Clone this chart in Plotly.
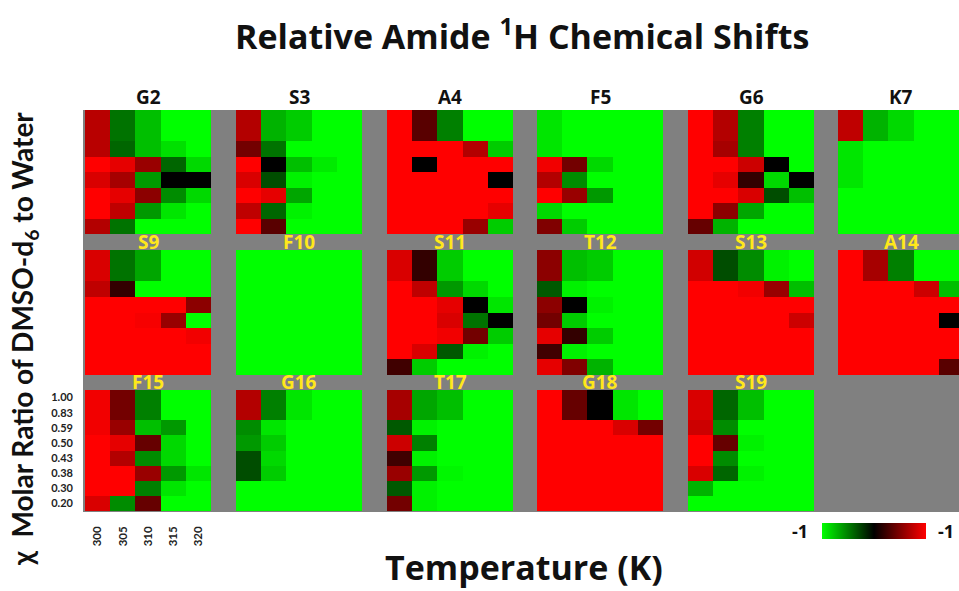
import plotly.graph_objects as go

# ---------------- data ----------------
temps = ["300", "305", "310", "315", "320"]
ratios = ["1.00", "0.83", "0.59", "0.50", "0.43", "0.38", "0.30", "0.20"]
residues = ["G2", "S3", "A4", "F5", "G6", "K7",
            "S9", "F10", "S11", "T12", "S13", "A14",
            "F15", "G16", "T17", "G18", "S19"]

G2 = [[0.72, -0.45, -0.75, -1, -1],
      [0.72, -0.45, -0.75, -1, -1],
      [0.72, -0.4, -0.75, -0.88, -1],
      [1, 0.9, 0.6, -0.4, -0.85],
      [0.85, 0.65, -0.6, 0, 0],
      [1, 0.9, 0.55, -0.55, -0.85],
      [1, 0.75, -0.6, -0.9, -1],
      [0.7, -0.45, -1, -1, -1]]
S3 = [[0.7, -0.7, -0.8, -1, -1],
      [0.7, -0.7, -0.8, -1, -1],
      [0.45, -0.45, -1, -1, -1],
      [1, 0, -0.75, -0.92, -1],
      [0.85, -0.3, -0.95, -1, -1],
      [1, 0.9, -0.65, -1, -1],
      [0.75, -0.4, -0.95, -1, -1],
      [1, 0.35, -1, -1, -1]]
A4 = [[1, 0.35, -0.5, -1, -1],
      [1, 0.35, -0.5, -1, -1],
      [1, 1, 1, 0.7, -0.8],
      [1, 0, 1, 1, 1],
      [1, 1, 1, 1, 0],
      [1, 1, 1, 1, 1],
      [1, 1, 1, 1, 0.9],
      [1, 1, 1, 0.6, -0.8]]
F5 = [[-0.9, -1, -1, -1, -1],
      [-0.9, -1, -1, -1, -1],
      [-0.9, -1, -1, -1, -1],
      [0.95, 0.45, -0.85, -1, -1],
      [0.7, -0.55, -1, -1, -1],
      [1, 0.6, -0.6, -1, -1],
      [-0.85, -1, -1, -1, -1],
      [0.5, -0.8, -1, -1, -1]]
G6 = [[1, 0.7, -0.5, -1, -1],
      [1, 0.7, -0.5, -1, -1],
      [1, 0.65, -0.5, -1, -1],
      [1, 1, 0.8, 0, -1],
      [1, 0.9, 0.2, -0.85, 0],
      [1, 1, 0.85, -0.3, -0.75],
      [1, 0.55, -0.65, -1, -1],
      [0.4, -0.7, -1, -1, -1]]
K7 = [[0.75, -0.7, -0.85, -1, -1],
      [0.75, -0.7, -0.85, -1, -1],
      [-0.9, -1, -1, -1, -1],
      [-0.9, -1, -1, -1, -1],
      [-0.9, -1, -1, -1, -1],
      [-1, -1, -1, -1, -1],
      [-1, -1, -1, -1, -1],
      [-1, -1, -1, -1, -1]]
S9 = [[0.85, -0.45, -0.65, -1, -1],
      [0.85, -0.45, -0.65, -1, -1],
      [0.75, 0.2, -1, -1, -1],
      [1, 1, 1, 1, 0.55],
      [1, 1, 0.97, 0.6, -1],
      [1, 1, 1, 1, 0.95],
      [1, 1, 1, 1, 1],
      [1, 1, 1, 1, 1]]
F10 = [[-1, -1, -1, -1, -1] for _ in range(8)]
S11 = [[0.85, 0.2, -0.8, -1, -1],
       [0.85, 0.2, -0.8, -1, -1],
       [1, 0.75, -0.6, -0.85, -1],
       [1, 1, 0.9, 0, -0.9],
       [1, 1, 0.85, -0.45, 0],
       [1, 1, 0.95, 0.45, -0.8],
       [1, 0.85, -0.35, -0.95, -1],
       [0.25, -0.8, -1, -1, -1]]
T12 = [[0.55, -0.75, -0.8, -1, -1],
       [0.55, -0.75, -0.8, -1, -1],
       [-0.35, -0.95, -1, -1, -1],
       [0.55, 0, -0.95, -1, -1],
       [0.45, -0.8, -1, -1, -1],
       [0.9, 0.2, -0.8, -1, -1],
       [0.25, -0.95, -1, -1, -1],
       [0.9, 0.5, -0.7, -1, -1]]
S13 = [[0.82, -0.3, -0.55, -0.95, -1],
       [0.82, -0.3, -0.55, -0.95, -1],
       [1, 1, 0.95, 0.6, -0.75],
       [1, 1, 1, 1, 1],
       [1, 1, 1, 1, 0.8],
       [1, 1, 1, 1, 1],
       [1, 1, 1, 1, 1],
       [1, 1, 1, 1, 1]]
A14 = [[1, 0.65, -0.5, -1, -1],
       [1, 0.65, -0.5, -1, -1],
       [1, 1, 1, 0.8, -0.75],
       [1, 1, 1, 1, 1],
       [1, 1, 1, 1, 0],
       [1, 1, 1, 1, 1],
       [1, 1, 1, 1, 1],
       [1, 1, 1, 1, 0.35]]
F15 = [[0.95, 0.45, -0.5, -1, -1],
       [0.95, 0.45, -0.5, -1, -1],
       [0.95, 0.6, -0.75, -0.6, -1],
       [1, 0.9, 0.4, -0.85, -1],
       [1, 0.7, -0.55, -0.85, -1],
       [1, 1, 0.6, -0.6, -0.9],
       [1, 1, -0.5, -0.9, -1],
       [0.85, -0.55, 0.4, -1, -1]]
G16 = [[0.7, -0.5, -0.9, -1, -1],
       [0.7, -0.5, -0.9, -1, -1],
       [-0.55, -0.9, -1, -1, -1],
       [-0.6, -0.8, -1, -1, -1],
       [-0.3, -0.85, -1, -1, -1],
       [-0.3, -0.8, -1, -1, -1],
       [-1, -1, -1, -1, -1],
       [-1, -1, -1, -1, -1]]
T17 = [[0.65, -0.65, -0.75, -1, -1],
       [0.65, -0.65, -0.75, -1, -1],
       [-0.35, -0.95, -1, -1, -1],
       [0.8, -0.5, -1, -1, -1],
       [0.25, -0.95, -1, -1, -1],
       [0.6, -0.6, -0.97, -1, -1],
       [-0.35, -0.95, -1, -1, -1],
       [0.45, -0.95, -1, -1, -1]]
G18 = [[1, 0.4, 0, -0.9, -1],
       [1, 0.4, 0, -0.9, -1],
       [1, 1, 1, 0.85, 0.45],
       [1, 1, 1, 1, 1],
       [1, 1, 1, 1, 1],
       [1, 1, 1, 1, 1],
       [1, 1, 1, 1, 1],
       [1, 1, 1, 1, 1]]
S19 = [[0.85, -0.4, -0.75, -1, -1],
       [0.85, -0.4, -0.75, -1, -1],
       [0.8, -0.55, -1, -1, -1],
       [1, 0.4, -0.95, -1, -1],
       [1, -0.55, -1, -1, -1],
       [0.85, -0.4, -0.95, -1, -1],
       [-0.7, -1, -1, -1, -1],
       [-1, -1, -1, -1, -1]]

panels = [G2, S3, A4, F5, G6, K7, S9, F10, S11, T12, S13, A14,
          F15, G16, T17, G18, S19]

# ---------------- layout geometry (pixels) ----------------
W, H = 959, 591
FONT = "Lato"
FONT2 = "Open Sans"
col_left = [85, 236, 387, 537, 688, 838]
panel_w = 126
row_top = [110, 250, 390]
row_bot = [234, 375, 511]
label_y = [97, 242, 382]
GRAY = "#808080"
YELLOW = "#FFE81A"

fig = go.Figure()
layout_axes = {}
annotations = []

for i, (name, z) in enumerate(zip(residues, panels)):
    r, c = divmod(i, 6)
    n = i + 1
    xa = "x" if n == 1 else f"x{n}"
    ya = "y" if n == 1 else f"y{n}"
    left = col_left[c]
    right = min(left + panel_w, W)
    frac = (right - left) / panel_w
    fig.add_trace(go.Heatmap(
        z=z, x=temps, y=ratios, xaxis=xa, yaxis=ya,
        coloraxis="coloraxis", hoverongaps=False,
        xgap=0, ygap=0))
    show = (name == "F15")
    xkey = "xaxis" if n == 1 else f"xaxis{n}"
    ykey = "yaxis" if n == 1 else f"yaxis{n}"
    layout_axes[xkey] = dict(
        domain=[left / W, right / W], anchor=ya, type="category",
        categoryorder="array", categoryarray=temps,
        range=[-0.5, -0.5 + 5 * frac],
        showgrid=False, zeroline=False, showline=False, ticks="",
        showticklabels=show, tickangle=-90, ticklabelstandoff=12,
        tickfont=dict(family=FONT, size=11.5, color="#222", weight="bold"),
        fixedrange=True)
    layout_axes[ykey] = dict(
        domain=[1 - row_bot[r] / H, 1 - row_top[r] / H], anchor=xa,
        type="category", categoryorder="array", categoryarray=ratios,
        autorange="reversed",
        showgrid=False, zeroline=False, showline=False, ticks="",
        showticklabels=show, ticklabelstandoff=11,
        tickfont=dict(family=FONT, size=11, color="#222", weight="bold"),
        fixedrange=True)
    annotations.append(dict(
        text=name, xref="paper", yref="paper",
        x=(left + panel_w / 2) / W, y=1 - label_y[r] / H,
        xanchor="center", yanchor="middle", showarrow=False,
        font=dict(family=FONT2, size=19, weight="bold",
                  color="#111" if r == 0 else YELLOW)))

# titles
annotations += [
    dict(text="Relative Amide <sup>1</sup>H Chemical Shifts",
         xref="paper", yref="paper", x=522 / W, y=1 - 35 / H,
         xanchor="center", yanchor="middle", showarrow=False,
         font=dict(family=FONT2, size=34, weight="bold", color="#111")),
    dict(text="Temperature (K)", xref="paper", yref="paper",
         x=524 / W, y=1 - 567 / H, xanchor="center", yanchor="middle",
         showarrow=False,
         font=dict(family=FONT2, size=34, weight="bold", color="#111")),
    dict(text="χ  Molar Ratio of DMSO-d<sub>6</sub> to Water",
         xref="paper", yref="paper", x=24 / W, y=1 - 339 / H,
         xanchor="center", yanchor="middle", textangle=-90,
         showarrow=False,
         font=dict(family=FONT, size=28, weight="bold", color="#111")),
    dict(text="-1", xref="paper", yref="paper", x=800 / W, y=1 - 531 / H,
         xanchor="center", yanchor="middle", showarrow=False,
         font=dict(family=FONT2, size=18, weight="bold", color="#111")),
    dict(text="-1", xref="paper", yref="paper", x=946 / W, y=1 - 531 / H,
         xanchor="center", yanchor="middle", showarrow=False,
         font=dict(family=FONT2, size=18, weight="bold", color="#111")),
]

fig.update_layout(
    width=W, height=H, margin=dict(l=0, r=0, t=0, b=0),
    paper_bgcolor="white", plot_bgcolor="rgba(0,0,0,0)",
    showlegend=False,
    coloraxis=dict(
        cmin=-1, cmax=1,
        colorscale=[[0, "#00ff00"], [0.5, "#000000"], [1, "#ff0000"]],
        colorbar=dict(orientation="h", x=874 / W, xanchor="center",
                      y=1 - 531 / H, yanchor="middle",
                      lenmode="pixels", len=104, thickness=16,
                      outlinewidth=0, ticks="", showticklabels=False,
                      xpad=0, ypad=0)),
    shapes=[dict(type="rect", xref="paper", yref="paper",
                 x0=83 / W, x1=1, y0=1 - 512 / H, y1=1 - 110 / H,
                 fillcolor=GRAY, line=dict(width=0), layer="below")],
    annotations=annotations,
    **layout_axes,
)

fig.write_html("out.html")
